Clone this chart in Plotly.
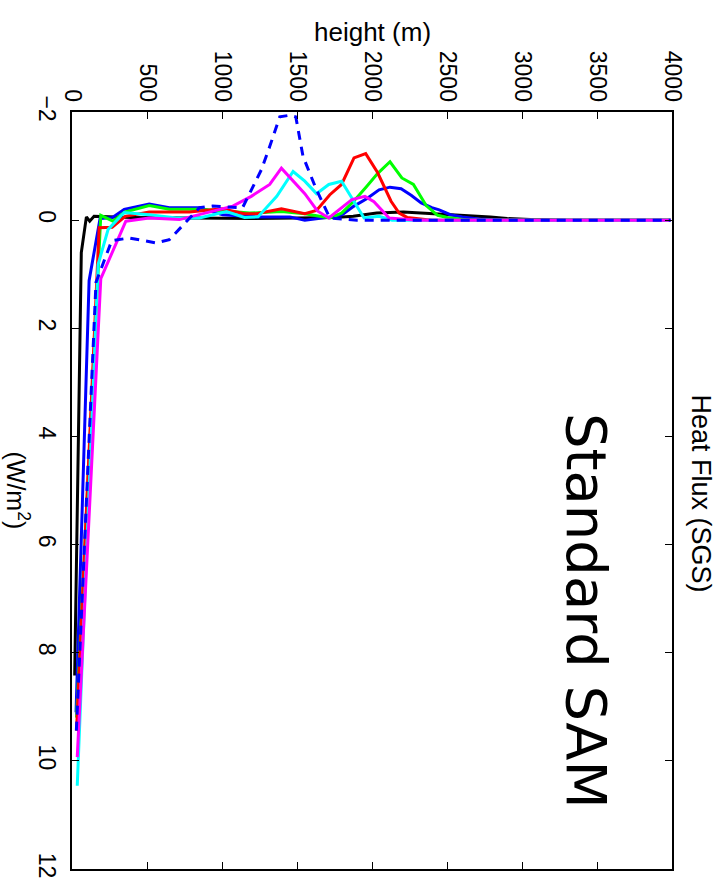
import plotly.graph_objects as go

# Heat flux profiles (SGS), height in m, flux in W/m^2
z_black = [18, 62, 96, 118, 147, 400, 800, 1200, 1500, 1750, 1875, 2031, 2209, 2343, 2455, 2589, 2789, 2901, 3057, 3300, 3600, 3990]
f_black = [8.42, 0.60, -0.06, 0.02, -0.07, -0.05, -0.04, -0.03, -0.04, -0.05, -0.07, -0.13, -0.15, -0.13, -0.10, -0.08, -0.06, -0.03, -0.01, 0.0, 0.0, 0.0]

z_blue = [27, 114, 187, 270, 348, 515, 649, 850, 1005, 1229, 1452, 1552, 1719, 1800, 1880, 1967, 2047, 2120, 2194, 2261, 2328, 2399, 2448, 2522, 2602, 2709, 2900, 3300, 3990]
f_blue = [9.1, 1.12, -0.03, -0.05, -0.20, -0.30, -0.23, -0.23, -0.10, -0.06, -0.06, 0.0, -0.06, -0.10, -0.26, -0.40, -0.56, -0.61, -0.58, -0.46, -0.32, -0.23, -0.19, -0.10, -0.06, -0.02, 0.0, 0.0, 0.0]

z_green = [30, 192, 274, 351, 515, 649, 850, 983, 1184, 1396, 1552, 1719, 1797, 1875, 1960, 2037, 2120, 2199, 2276, 2361, 2438, 2502, 2650, 3300, 3990]
f_green = [9.2, -0.09, 0.02, -0.15, -0.27, -0.20, -0.20, -0.18, -0.13, -0.16, -0.12, -0.04, -0.13, -0.34, -0.61, -0.86, -1.08, -0.78, -0.66, -0.27, -0.09, -0.05, 0.0, 0.0, 0.0]

z_red = [30, 181, 268, 355, 515, 783, 1000, 1150, 1231, 1396, 1552, 1630, 1719, 1797, 1880, 1958, 2037, 2127, 2181, 2234, 2400, 3300, 3990]
f_red = [9.44, 0.14, 0.13, -0.07, -0.15, -0.15, -0.21, -0.12, -0.12, -0.21, -0.12, -0.18, -0.47, -0.66, -1.15, -1.23, -0.88, -0.35, -0.13, -0.05, 0.0, 0.0, 0.0]

z_cyan = [35, 174, 241, 348, 515, 696, 850, 1030, 1150, 1240, 1365, 1474, 1552, 1630, 1712, 1797, 1947, 2047, 2134, 2400, 3300, 3990]
f_cyan = [10.46, 0.82, 0.17, -0.14, -0.10, -0.04, -0.04, -0.16, -0.05, -0.06, -0.44, -0.90, -0.72, -0.49, -0.66, -0.72, -0.04, -0.07, 0.0, 0.0, 0.0, 0.0]

z_magenta = [35, 192, 359, 515, 716, 850, 1072, 1195, 1318, 1396, 1552, 1636, 1712, 1866, 1953, 2013, 2114, 2300, 3300, 3990]
f_magenta = [9.93, 1.08, 0.02, -0.04, -0.01, -0.10, -0.26, -0.44, -0.66, -0.96, -0.49, -0.17, -0.04, -0.38, -0.44, -0.34, -0.04, 0.0, 0.0, 0.0]

z_dashed = [29, 160, 265, 381, 560, 649, 850, 937, 1137, 1262, 1318, 1385, 1452, 1492, 1540, 1630, 1719, 1900, 2600, 3300, 3990]
f_dashed = [9.44, 1.15, 0.38, 0.33, 0.42, 0.36, -0.23, -0.26, -0.23, -0.93, -1.36, -1.91, -1.94, -1.91, -1.18, -0.56, -0.04, 0.0, 0.0, 0.0, 0.0]

height_ticks = [0, 500, 1000, 1500, 2000, 2500, 3000, 3500, 4000]
flux_ticks = [-2, 0, 2, 4, 6, 8, 10, 12]

series = [
    (z_black, f_black, "#000000", "solid"),
    (z_blue, f_blue, "#0000ff", "solid"),
    (z_green, f_green, "#00ff00", "solid"),
    (z_red, f_red, "#ff0000", "solid"),
    (z_cyan, f_cyan, "#00ffff", "solid"),
    (z_magenta, f_magenta, "#ff00ff", "solid"),
    (z_dashed, f_dashed, "#0000ff", "9px,7px"),
]

fig = go.Figure()
for z, f, color, dash in series:
    fig.add_trace(go.Scatter(
        x=z, y=f, mode="lines",
        line=dict(color=color, width=3, dash=dash),
        showlegend=False, hoverinfo="skip",
    ))

sans = "Liberation Sans, Arial, sans-serif"
font_ticks = dict(family=sans, size=23, color="black")

fig.update_layout(
    width=726, height=890,
    margin=dict(l=72, r=54, t=112, b=18),
    paper_bgcolor="white", plot_bgcolor="white",
    font=font_ticks,
    xaxis=dict(
        range=[0, 4000], side="top", tickvals=height_ticks,
        ticktext=[str(v) for v in height_ticks],
        tickangle=90, ticks="inside", ticklen=7, tickwidth=1.2, tickcolor="black",
        showline=True, linecolor="black", linewidth=2, mirror="ticks",
        showgrid=False, zeroline=False, tickfont=font_ticks,
        ticklabelstandoff=0,
    ),
    yaxis=dict(
        range=[12, -2], tickvals=flux_ticks,
        ticktext=[("\u2212" + str(-v)) if v < 0 else str(v) for v in flux_ticks],
        tickangle=90, ticks="inside", ticklen=7, tickwidth=1.2, tickcolor="black",
        showline=True, linecolor="black", linewidth=2, mirror="ticks",
        showgrid=False, zeroline=False, tickfont=font_ticks,
        ticklabelstandoff=3,
    ),
)

fig.add_annotation(
    text="height (m)", xref="paper", yref="paper", x=0.5, y=(872 - 32) / 760,
    xanchor="center", yanchor="middle", showarrow=False,
    font=dict(family=sans, size=26, color="black"),
)
fig.add_annotation(
    text="Heat Flux (SGS)", xref="paper", yref="paper", x=(701 - 72) / 600, y=(872 - 495) / 760,
    xanchor="center", yanchor="middle", textangle=90, showarrow=False,
    font=dict(family=sans, size=27, color="black"),
)
fig.add_annotation(
    text="(W/m<sup>2</sup>)", xref="paper", yref="paper", x=(18 - 72) / 600, y=(872 - 492) / 760,
    xanchor="center", yanchor="middle", textangle=90, showarrow=False,
    font=dict(family=sans, size=25, color="black"),
)
fig.add_annotation(
    text="Standard SAM", xref="paper", yref="paper", x=(587 - 72) / 600, y=(872 - 613) / 760,
    xanchor="center", yanchor="middle", textangle=90, showarrow=False,
    font=dict(family="DejaVu Sans, sans-serif", size=56, color="black"),
)

fig.write_html("out.html")
